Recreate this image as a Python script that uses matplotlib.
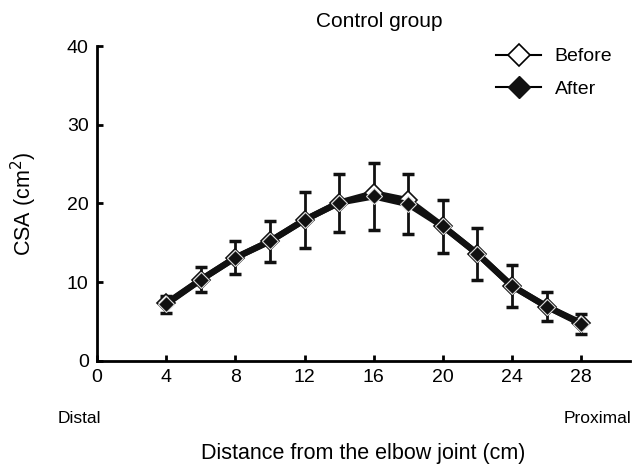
#CSA along the arm, control group, before and after
import matplotlib
matplotlib.use('Agg')
import matplotlib.pyplot as plt
from matplotlib.lines import Line2D

plt.rcParams['font.family'] = ['Liberation Sans', 'DejaVu Sans']

distance = [4, 6, 8, 10, 12, 14, 16, 18, 20, 22, 24, 26, 28]
before = [7.3, 10.3, 13.1, 15.2, 17.9, 20.1, 21.3, 20.4, 17.1, 13.6, 9.5, 6.9, 4.8]
after = [7.2, 10.3, 13.1, 15.2, 17.9, 20.1, 20.9, 19.9, 17.1, 13.6, 9.5, 6.9, 4.7]
#SD bars as shown (they sit on the After points)
after_err = [1.1, 1.6, 2.1, 2.6, 3.5, 3.7, 4.3, 3.8, 3.4, 3.3, 2.7, 1.9, 1.3]

fig = plt.figure(figsize=(6.38, 4.65), dpi=100)
ax = fig.add_axes([0.152, 0.224, 0.835, 0.677])

ax.errorbar(distance, after, yerr=after_err, fmt='none', ecolor='#111111',
	elinewidth=2, capsize=4, capthick=2.5, zorder=2)
ax.plot(distance, before, color='#111111', lw=4.5, marker='D', ms=9,
	mfc='white', mec='#111111', mew=1.2, zorder=3)
ax.plot(distance, after, color='#111111', lw=4.5, marker='D', ms=8,
	mfc='#111111', mec='#dddddd', mew=0.8, zorder=4)

ax.set_xlim(0, 30.8)
ax.set_ylim(0, 40)
ax.set_xticks(range(0, 29, 4))
ax.set_yticks(range(0, 41, 10))
ax.spines['top'].set_visible(False)
ax.spines['right'].set_visible(False)
ax.spines['left'].set_linewidth(2)
ax.spines['bottom'].set_linewidth(2)
ax.tick_params(direction='in', length=4, width=2, labelsize=14, pad=6)

ax.set_title('Control group', fontsize=15, pad=14, x=0.53)
ax.set_ylabel('CSA (cm$^2$)', fontsize=15.5, labelpad=20)
ax.set_xlabel('Distance from the elbow joint (cm)', fontsize=15.5, labelpad=41)
fig.text(79/638, 1 - 418/465, 'Distal', fontsize=12.5, ha='center', va='center')
fig.text(631/638, 1 - 418/465, 'Proximal', fontsize=12.5, ha='right', va='center')

handles = [
	Line2D([], [], color='black', lw=1.5, marker='D', ms=11, mfc='white', mec='black', mew=1.2),
	Line2D([], [], color='black', lw=1.5, marker='D', ms=11, mfc='#111111', mec='#111111'),
]
ax.legend(handles, ['Before', 'After'], loc='upper right', bbox_to_anchor=(1.0, 1.05),
	frameon=False, fontsize=14, handlelength=2.3, handletextpad=0.7, labelspacing=0.75)

plt.savefig('out.png', dpi=100)
